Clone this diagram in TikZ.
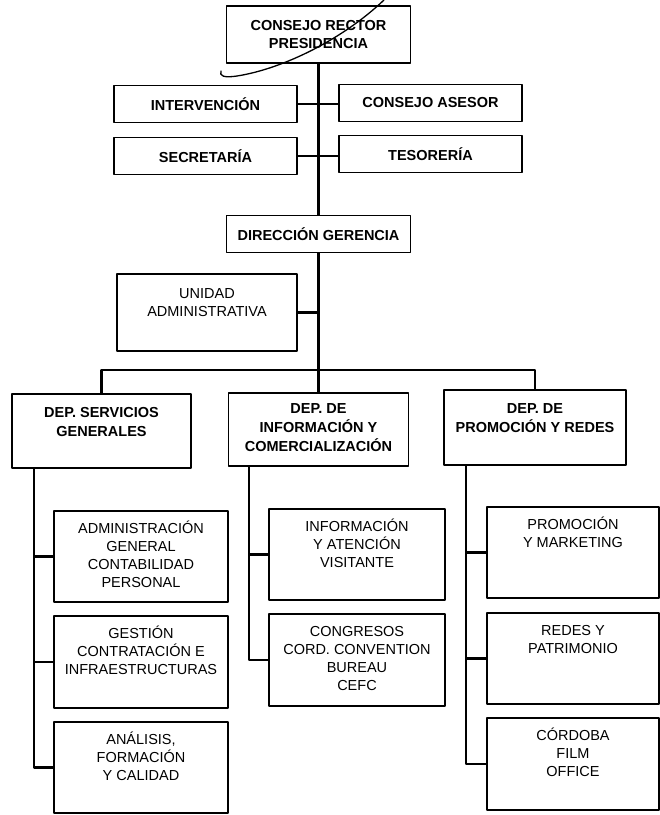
\documentclass[tikz,border=0pt]{standalone}
\usepackage{fontspec}
\setmainfont{Liberation Sans}
\usepackage{tikz}
\usetikzlibrary{positioning}

% text block set at the top of a fixed box: width, height, lines
\newcommand{\boxlines}[4][22pt]{\parbox[c][#3][t]{#2}{\centering\rule{0pt}{#1}#4}}

\begin{document}
\begin{tikzpicture}[
  x=1pt,y=-1pt,
  line cap=round,line join=round,
  unit/.style={draw,line width=1.6pt,inner sep=0pt,align=center,
    minimum width=184pt,minimum height=37pt,
    font=\bfseries\fontsize{14.5}{18.3}\selectfont},
  dept/.style={draw,line width=1.6pt,inner sep=0pt,
    font=\bfseries\fontsize{14.5}{19.3}\selectfont},
  sect/.style={draw,line width=1.6pt,inner sep=0pt,
    font=\fontsize{14.5}{18.3}\selectfont},
  link/.style={line width=2.4pt,line cap=butt},
  pen/.style={line width=1.3pt}
]
  \useasboundingbox (0,0) rectangle (660,815);

  % Governing bodies
  \node[unit,minimum height=57pt] (cr) at (318.5,34.5) {CONSEJO RECTOR\\PRESIDENCIA};
  \node[unit,minimum width=183pt] (intv) at (205.5,104) {INTERVENCI\'ON};
  \node[unit,minimum width=183pt] (ases) at (430.5,103) {CONSEJO ASESOR};
  \node[unit,minimum width=183pt] (secr) at (205.5,156) {SECRETAR\'IA};
  \node[unit,minimum width=183pt] (teso) at (430.5,154) {TESORER\'IA};
  \node[unit] (dir) at (318.5,234) {DIRECCI\'ON GERENCIA};
  \node[sect] (unid) at (207,312.5) {\boxlines[24pt]{180pt}{77pt}{UNIDAD\\ADMINISTRATIVA}};

  % Departments
  \node[dept] (serv) at (101.5,431) {\boxlines[23pt]{179pt}{74pt}{DEP. SERVICIOS\\GENERALES}};
  \node[dept] (info) at (318.5,429.5) {\boxlines[20pt]{180pt}{73pt}{DEP. DE\\INFORMACI\'ON Y\\COMERCIALIZACI\'ON}};
  \node[dept] (prom) at (535,427.5) {\boxlines[23pt]{182pt}{75pt}{DEP. DE\\PROMOCI\'ON Y REDES}};

  % Sections
  \node[sect] (adm) at (141,556.5) {\boxlines{174pt}{91pt}{ADMINISTRACI\'ON\\GENERAL\\CONTABILIDAD\\PERSONAL}};
  \node[sect] (ges) at (141,662) {\boxlines{174pt}{92pt}{GESTI\'ON\\CONTRATACI\'ON E\\INFRAESTRUCTURAS}};
  \node[sect] (ana) at (141,767.5) {\boxlines{174pt}{91pt}{AN\'ALISIS,\\FORMACI\'ON\\Y CALIDAD}};
  \node[sect] (inf1) at (357,554.5) {\boxlines{176pt}{91pt}{INFORMACI\'ON\\Y ATENCI\'ON\\VISITANTE}};
  \node[sect] (cong) at (357,660) {\boxlines{176pt}{92pt}{CONGRESOS\\CORD. CONVENTION\\BUREAU\\CEFC}};
  \node[sect] (pm1) at (573,552.5) {\boxlines{172pt}{91pt}{PROMOCI\'ON\\Y MARKETING}};
  \node[sect] (red) at (573,658.5) {\boxlines{172pt}{91pt}{REDES Y\\PATRIMONIO}};
  \node[sect] (cor) at (573,764) {\boxlines{172pt}{92pt}{C\'ORDOBA\\FILM\\OFFICE}};

  % Trunk and side links
  \draw[link] (cr.south) -- (dir.north);
  \draw[link] (intv.east) -- (intv.east -| ases.west);
  \draw[link] (secr.east) -- (secr.east -| teso.west);
  \draw[link] (dir.south) -- (info.north);
  \draw[link] (unid.east) -- (unid.east -| dir.south);

  % Bus to departments
  \coordinate (bus) at (318.5,370);
  \draw[link] (serv.north) |- (bus) -| (prom.north);

  % Branches to sections
  \coordinate (svx) at (34,468);
  \coordinate (ifx) at (249,466);
  \coordinate (pmx) at (466,465);
  \draw[link] (svx) |- (ana.west);
  \draw[link] (svx |- adm.west) -- (adm.west);
  \draw[link] (svx |- ges.west) -- (ges.west);
  \draw[link] (ifx) |- (cong.west);
  \draw[link] (ifx |- inf1.west) -- (inf1.west);
  \draw[link] (pmx) |- (cor.west);
  \draw[link] (pmx |- pm1.west) -- (pm1.west);
  \draw[link] (pmx |- red.west) -- (red.west);

  % Pen stroke across the top box
  \draw[pen] (221,71) .. controls (219,76) and (224,78) .. (237,76)
    .. controls (282,69) and (342,40) .. (384,0);
\end{tikzpicture}
\end{document}
